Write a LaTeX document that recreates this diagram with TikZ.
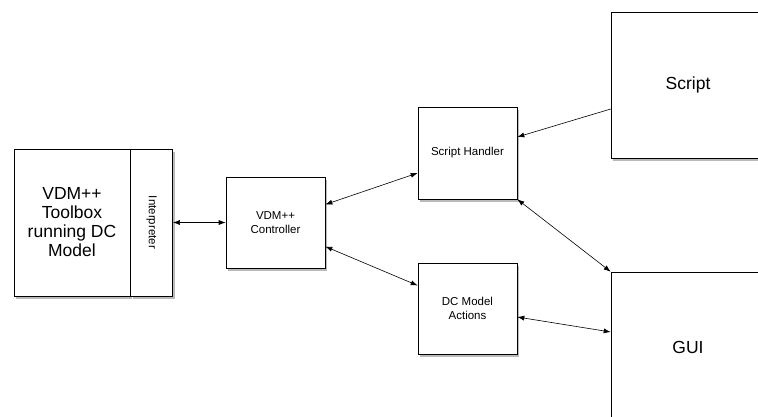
\documentclass[tikz,border=0pt]{standalone}
\usepackage{fontspec}
\setmainfont{Liberation Sans}
\usepackage{tikz}
\usetikzlibrary{arrows.meta,positioning,shadows}

\tikzset{
  block/.style={draw, fill=white, inner sep=0pt, line width=0.6pt,
    drop shadow={shadow xshift=2pt, shadow yshift=-2.5pt, opacity=0.45, fill=black!60}},
  link/.style={{Latex[length=7pt,width=5pt]}-{Latex[length=7pt,width=5pt]}, line width=0.6pt},
  onelink/.style={-{Latex[length=7pt,width=5pt]}, line width=0.6pt},
}

\begin{document}
\begin{tikzpicture}[x=1pt,y=-1pt]
    \useasboundingbox (0,0) rectangle (758,416);
    \clip (0,0) rectangle (758,416);
    % left part: toolbox with interpreter
    \node[block, minimum width=116pt, minimum height=147pt, align=center,
          font=\fontsize{17.5}{19}\selectfont] (toolbox) at (72,222.5)
          {VDM++\\Toolbox\\running DC\\Model};
    \node[block, minimum width=42pt, minimum height=147pt, right=0pt of toolbox,
          font=\fontsize{11.5}{13}\selectfont] (interp) {\rotatebox{-90}{Interpreter}};
    % middle
    \node[block, minimum width=99pt, minimum height=91pt, align=center,
          font=\fontsize{11.5}{13.5}\selectfont] (ctrl) at (275.5,222.5) {VDM++\\Controller};
    \node[block, minimum width=99pt, minimum height=92pt,
          font=\fontsize{11.5}{13.5}\selectfont] (handler) at (467.5,153) {Script Handler};
    \node[block, minimum width=99pt, minimum height=91pt, align=center,
          font=\fontsize{11.5}{13.5}\selectfont] (actions) at (467.5,308.5) {DC Model\\Actions};
    % right
    \node[block, minimum width=154pt, minimum height=146pt,
          font=\fontsize{17.5}{20}\selectfont] (script) at (688,85) {Script};
    \node[block, minimum width=154pt, minimum height=150pt,
          font=\fontsize{17.5}{20}\selectfont] (gui) at (688,347) {GUI};
    % connectors
    \draw[link] (interp.east) -- (ctrl.west);
    \draw[link] ([yshift=18pt]ctrl.east) -- ([yshift=-20pt]handler.west);
    \draw[link] ([yshift=-24pt]ctrl.east) -- ([yshift=23pt]actions.west);
    \draw[onelink] ([yshift=-24pt]script.west) -- ([yshift=16pt]handler.east);
    \draw[link] (handler.south east) -- (gui.north west);
    \draw[link] ([yshift=-8.5pt]actions.east) -- ([yshift=15pt]gui.west);
  \end{tikzpicture}
\end{document}
